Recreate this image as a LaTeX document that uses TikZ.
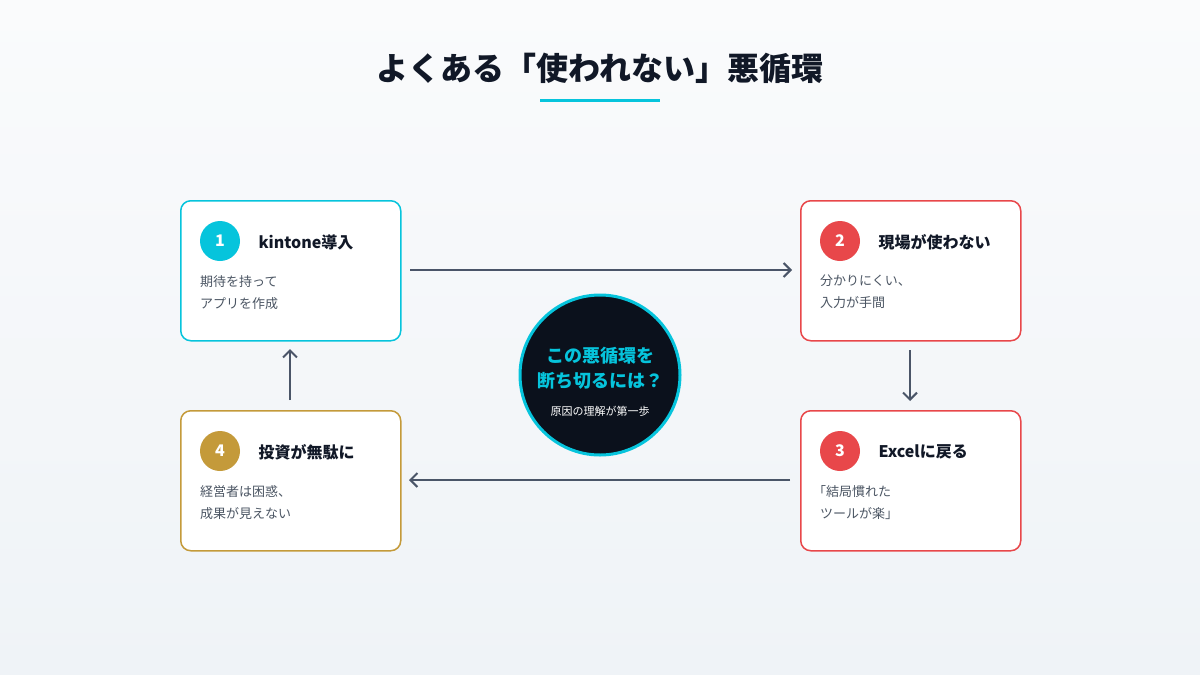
\documentclass[tikz,border=0pt]{standalone}
\usepackage{fontspec}
\usetikzlibrary{arrows.meta}
\setmainfont{Noto Sans CJK JP}
\definecolor{cy}{HTML}{06C4DC}
\definecolor{rd}{HTML}{E8474A}
\definecolor{gd}{HTML}{C49A3A}
\definecolor{ar}{HTML}{4A5568}
\definecolor{tx}{HTML}{111827}
\definecolor{bd}{HTML}{4B5563}
\definecolor{dk}{HTML}{0B111C}
\definecolor{bgt}{HTML}{FAFBFC}
\definecolor{bgb}{HTML}{EFF3F7}
\begin{document}
\begin{tikzpicture}[x=1pt,y=-1pt,
 card/.style={draw=#1,line width=1.5pt,fill=white,rounded corners=10pt,minimum width=220pt,minimum height=140pt,anchor=north west},
 num/.style={circle,fill=#1,minimum size=40pt,inner sep=0pt,text=white,font=\fontsize{16}{16}\selectfont\bfseries},
 ttl/.style={anchor=west,text=tx,font=\fontsize{16}{16}\selectfont\bfseries},
 bod/.style={anchor=north west,text=bd,align=left,font=\fontsize{13}{22}\selectfont,inner sep=0pt},
 arr/.style={draw=ar,line width=2pt,->,>={Straight Barb[length=7pt,width=14pt]}}]
\shade[top color=bgt,bottom color=bgb] (0,0) rectangle (1200,675);
\useasboundingbox (0,0) rectangle (1200,675);
\node[text=tx,font=\fontsize{32}{32}\selectfont\bfseries] (t) at (600,68) {よくある「使われない」悪循環};
\draw[cy,line width=3pt] (540,100) -- (660,100);
\node[card=cy] (b1) at (180,200) {};
\node[card=rd] (b2) at (800,200) {};
\node[card=rd] (b3) at (800,410) {};
\node[card=gd] (b4) at (180,410) {};
\node[num=cy] (n1) at (220,241) {1};
\node[ttl] (t1) at (255,242) {kintone導入};
\node[bod] (d1) at (200,275) {期待を持って\\アプリを作成};
\node[num=rd] (n2) at (840,241) {2};
\node[ttl] (t2) at (875,242) {現場が使わない};
\node[bod] (d2) at (820,275) {分かりにくい、\\入力が手間};
\node[num=rd] (n3) at (840,451) {3};
\node[ttl] (t3) at (875,452) {Excelに戻る};
\node[bod] (d3) at (813,485) {「結局慣れた\\\hspace*{7pt}ツールが楽」};
\node[num=gd] (n4) at (220,451) {4};
\node[ttl] (t4) at (255,452) {投資が無駄に};
\node[bod] (d4) at (200,485) {経営者は困惑、\\成果が見えない};
\node[circle,draw=cy,line width=3pt,fill=dk,minimum size=160pt] (c) at (600,375) {};
\node[text=cy,align=center,font=\fontsize{18}{25}\selectfont\bfseries] (ct) at (600,368) {この悪循環を\\断ち切るには？};
\node[text=white,font=\fontsize{11}{11}\selectfont] (cs) at (600,411) {原因の理解が第一歩};
\coordinate (a1) at (410,270); \coordinate (a2) at (792,270);
\coordinate (a3) at (910,350); \coordinate (a4) at (910,401);
\coordinate (a5) at (790,480); \coordinate (a6) at (409,480);
\coordinate (a7) at (290,400); \coordinate (a8) at (290,349);
\draw[arr] (a1) -- (a2);
\draw[arr] (a3) -- (a4);
\draw[arr] (a5) -- (a6);
\draw[arr] (a7) -- (a8);
\end{tikzpicture}
\end{document}
